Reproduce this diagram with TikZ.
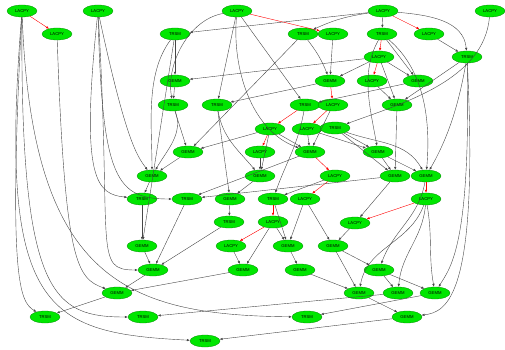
\documentclass[tikz,border=0pt]{standalone}
\usepackage{fontspec}
\setmainfont{Liberation Sans}
\usetikzlibrary{shapes.geometric,arrows.meta}
\definecolor{nodegreen}{RGB}{0,230,0}
\definecolor{nodeedge}{RGB}{0,140,0}
\definecolor{edgegray}{RGB}{70,70,70}
\tikzset{
  task/.style={ellipse,fill=nodegreen,draw=nodeedge,line width=0.3pt,minimum width=30pt,minimum height=12pt,inner sep=0pt,font=\fontsize{4.2}{4.2}\selectfont},
  e/.style={draw=edgegray,line width=0.4pt,-{Latex[length=3pt,width=2.4pt]}},
  r/.style={draw=red,line width=0.4pt,-{Latex[length=3pt,width=2.4pt]}}
}
\begin{document}
\begin{tikzpicture}[x=1pt,y=-1pt]
\useasboundingbox (0,0) rectangle (505,350);
% row 1
\node[task] (a1) at (22,11) {LACPY};
\node[task] (a2) at (98,11) {LACPY};
\node[task] (a3) at (237,11) {LACPY};
\node[task] (a4) at (383,11) {LACPY};
\node[task] (a5) at (490,11) {LACPY};
% row 2
\node[task] (b1) at (57,34) {LACPY};
\node[task] (b2) at (175,34) {TRSM};
\node[task] (b3) at (303,34) {TRSM};
\node[task] (b4) at (333,34) {LACPY};
\node[task] (b5) at (382,34) {TRSM};
\node[task] (b6) at (429,34) {LACPY};
% row 3
\node[task] (c1) at (379,57) {LACPY};
\node[task] (c2) at (467,57) {TRSM};
% row 4
\node[task] (d1) at (175,81) {GEMM};
\node[task] (d2) at (330,81) {GEMM};
\node[task] (d3) at (372,81) {LACPY};
\node[task] (d4) at (418,81) {GEMM};
% row 5
\node[task] (e1) at (173,105) {TRSM};
\node[task] (e2) at (217,105) {TRSM};
\node[task] (e3) at (305,105) {TRSM};
\node[task] (e4) at (333,105) {LACPY};
\node[task] (e5) at (397,105) {GEMM};
% row 6
\node[task] (f1) at (270,129) {LACPY};
\node[task] (f2) at (307,129) {LACPY};
\node[task] (f3) at (335,128) {TRSM};
% row 7
\node[task] (g1) at (188,152) {GEMM};
\node[task] (g2) at (260,152) {LACPY};
\node[task] (g3) at (310,152) {GEMM};
\node[task] (g4) at (378,152) {GEMM};
% row 8
\node[task] (h1) at (152,176) {GEMM};
\node[task] (h2) at (260,176) {GEMM};
\node[task] (h3) at (335,176) {LACPY};
\node[task] (h4) at (395,176) {GEMM};
\node[task] (h5) at (426,176) {GEMM};
% row 9
\node[task] (i1) at (142,199) {TRSM};
\node[task] (i2) at (187,199) {TRSM};
\node[task] (i3) at (230,199) {GEMM};
\node[task] (i4) at (273,199) {TRSM};
\node[task] (i5) at (305,199) {LACPY};
\node[task] (i6) at (426,199) {LACPY};
% row 10
\node[task] (j1) at (229,222) {TRSM};
\node[task] (j2) at (273,222) {LACPY};
\node[task] (j3) at (355,223) {LACPY};
% row 11
\node[task] (k1) at (142,246) {GEMM};
\node[task] (k2) at (231,246) {LACPY};
\node[task] (k3) at (288,246) {GEMM};
\node[task] (k4) at (333,246) {GEMM};
% row 12
\node[task] (l1) at (153,270) {GEMM};
\node[task] (l2) at (243,270) {GEMM};
\node[task] (l3) at (300,270) {GEMM};
\node[task] (l4) at (379,270) {GEMM};
% row 13
\node[task] (m1) at (117,293) {GEMM};
\node[task] (m2) at (359,293) {GEMM};
\node[task] (m3) at (398,293) {GEMM};
\node[task] (m4) at (435,293) {GEMM};
% row 14
\node[task] (n1) at (45,317) {TRSM};
\node[task] (n2) at (143,317) {TRSM};
\node[task] (n3) at (307,317) {TRSM};
\node[task] (n4) at (407,317) {GEMM};
% row 15
\node[task] (o1) at (205,341) {TRSM};

% red edges
\draw[r] (a1) -- (b1);
\draw[r] (a3) -- (b4);
\draw[r] (a4) -- (b6);
\draw[r] (b5) -- (c1);
\draw[r] (c1) -- (d3);
\draw[r] (d2) -- (e4);
\draw[r] (e3) -- (f1);
\draw[r] (e4) -- (f2);
\draw[r] (f1) -- (g2);
\draw[r] (g3) -- (h3);
\draw[r] (h3) -- (i5);
\draw[r] (h5) -- (i6);
\draw[r] (i6) -- (j3);
\draw[r] (i4) -- (j2);
\draw[r] (j2) -- (k2);

% black edges
\draw[e] (a1) .. controls +(-24,300) and +(-160,-8) .. (o1);
\draw[e] (a1) .. controls +(-14,270) and +(-25,-15) .. (n1);
\draw[e] (a1) .. controls +(-2,285) and +(-90,0) .. (n2);
\draw[e] (a1) .. controls +(10,270) and +(-180,-2) .. (n3);
\draw[e] (b1) .. controls +(8,230) and +(-40,-15) .. (m1);
\draw[e] (a2) .. controls +(-18,170) and +(-45,-5) .. (i1);
\draw[e] (a2) .. controls +(4,170) and +(-70,0) .. (i2);
\draw[e] (a2) .. controls +(28,130) and +(-15,-20) .. (h1);
\draw[e] (a2) .. controls +(14,240) and +(-60,0) .. (l1);
\draw[e] (a3) to[out=190,in=100,looseness=0.9] (e1);
\draw[e] (a3) -- (e2);
\draw[e] (a3) -- (e3);
\draw[e] (a3) to[out=-95,in=160,looseness=0.9] (g3);
\draw[e] (a4) -- (b2);
\draw[e] (a4) to[bend right=8] (b3);
\draw[e] (a4) -- (b5);
\draw[e] (a4) to[out=-5,in=95] (c2);
\draw[e] (a5) to[out=-95,in=20,looseness=0.9] (f3);
\draw[e] (b2) -- (d1);
\draw[e] (b2) -- (k1);
\draw[e] (b2) .. controls +(-30,40) and +(0,-50) .. (h1);
\draw[e] (b3) to[bend left=8] (d2);
\draw[e] (b3) -- (g1);
\draw[e] (b4) -- (d2);
\draw[e] (b5) -- (d4);
\draw[e] (b5) to[out=-120,in=100,looseness=0.9] (g4);
\draw[e] (b5) to[out=-40,in=85,looseness=0.9] (h5);
\draw[e] (b6) -- (c2);
\draw[e] (c1) -- (d4);
\draw[e] (c1) -- (e5);
\draw[e] (c1) -- (d2);
\draw[e] (c1) -- (d1);
\draw[e] (c2) -- (e5);
\draw[e] (c2) to[out=-100,in=60,looseness=0.9] (h5);
\draw[e] (c2) .. controls +(4,190) and +(15,-25) .. (m4);
\draw[e] (c2) .. controls +(12,240) and +(40,-5) .. (n4);
\draw[e] (d1) -- (e1);
\draw[e] (d2) -- (e2);
\draw[e] (d3) -- (e5);
\draw[e] (d4) -- (e3);
\draw[e] (e1) -- (g1);
\draw[e] (e1) to[out=-70,in=60] (h1);
\draw[e] (e2) to[out=-80,in=130] (h2);
\draw[e] (e2) -- (i3);
\draw[e] (e3) to[out=-100,in=70] (i4);
\draw[e] (e4) -- (g3);
\draw[e] (e5) -- (h4);
\draw[e] (f1) -- (g1);
\draw[e] (f1) -- (h2);
\draw[e] (f1) -- (g3);
\draw[e] (f2) -- (g3);
\draw[e] (f2) -- (g4);
\draw[e] (f3) -- (g4);
\draw[e] (f3) -- (h4);
\draw[e] (f3) to[out=-20,in=120] (h5);
\draw[e] (g1) -- (h1);
\draw[e] (g2) -- (h2);
\draw[e] (g3) -- (i2);
\draw[e] (g4) -- (h4);
\draw[e] (g4) -- (h5);
\draw[e] (h1) -- (i1);
\draw[e] (h2) -- (i3);
\draw[e] (h3) -- (i4);
\draw[e] (h4) -- (i2);
\draw[e] (h4) -- (j3);
\draw[e] (h5) to[out=-100,in=70] (l4);
\draw[e] (i1) -- (k1);
\draw[e] (i2) -- (l1);
\draw[e] (i3) -- (j1);
\draw[e] (i4) -- (k3);
\draw[e] (i5) -- (k3);
\draw[e] (i5) -- (k4);
\draw[e] (i6) to[out=-110,in=80] (m2);
\draw[e] (i6) to[out=-95,in=85] (m3);
\draw[e] (i6) to[out=-80,in=100] (m4);
\draw[e] (j1) -- (l1);
\draw[e] (j2) -- (k3);
\draw[e] (j2) -- (l2);
\draw[e] (j3) -- (k4);
\draw[e] (k1) -- (l1);
\draw[e] (k2) -- (l2);
\draw[e] (k3) -- (l3);
\draw[e] (k4) -- (l4);
\draw[e] (k4) -- (m2);
\draw[e] (l1) -- (m1);
\draw[e] (l2) -- (m1);
\draw[e] (l3) -- (m2);
\draw[e] (l4) -- (m4);
\draw[e] (l4) -- (m3);
\draw[e] (m1) -- (n1);
\draw[e] (m2) -- (n4);
\draw[e] (m3) -- (n2);
\draw[e] (m4) -- (n3);
\draw[e] (n4) -- (o1);
\end{tikzpicture}
\end{document}
